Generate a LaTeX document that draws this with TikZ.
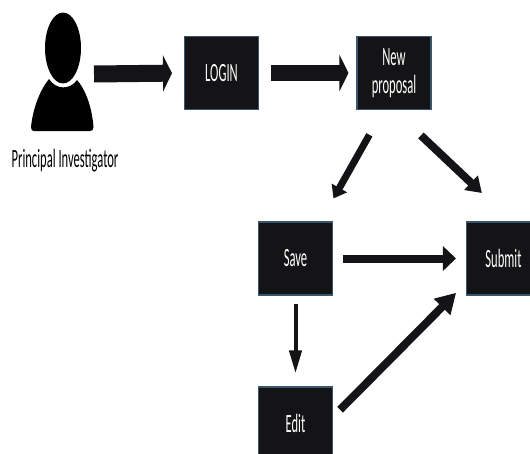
\documentclass[tikz,border=0pt]{standalone}
\usepackage{fontspec}
\setmainfont{Carlito}
\usetikzlibrary{arrows.meta, shapes.geometric}
\definecolor{boxfill}{HTML}{141416}
\definecolor{boxedge}{HTML}{3A566E}
\newcommand{\narrowtext}[1]{\scalebox{0.477}[1]{#1}}
\tikzset{
  flow/.style={
	x=0.02cm, y=-0.02cm, % one unit is one pixel of the reference
	every node/.style={font=\fontsize{15}{16}\selectfont},
  },
  stepbox/.style={
	draw=boxedge, line width=0.6pt, fill=boxfill, text=white, % dark boxes
	minimum width=1.48cm, minimum height=1.46cm, inner sep=0pt,
	align=center,
  },
  flowarrow/.style n args={3}{
	draw=boxfill, line width=#1cm,
	-{Triangle[length=#2cm, width=#3cm, fill=boxfill]},
  },
}
\begin{document}
\begin{tikzpicture}[flow]
	  \useasboundingbox (0,0) rectangle (530,453);

	  % person
	  \fill[black] (31,127) .. controls (33,108) and (40,90) .. (49,79)
		  .. controls (56,90) and (70,90) .. (77,80)
		  .. controls (86,90) and (92,108) .. (93.5,127)
		  .. controls (93.5,130) and (92,131) .. (90,131)
		  -- (34,131) .. controls (32,131) and (31,130) .. (31,127) -- cycle;
	  \node[ellipse, fill=black, minimum width=0.72cm, minimum height=1.42cm, inner sep=0pt] (head) at (63,48) {};
	  \node (investigator) at (65,161) {\narrowtext{Principal Investigator}};
	  \coordinate (person) at (94,74);

	  \node[stepbox] (login) at (221.5,73) {\narrowtext{LOGIN}};
	  \node[stepbox] (newprop) at (394,73) {\narrowtext{New}\\\narrowtext{proposal}};
	  \node[stepbox] (save) at (295.5,258.5) {\narrowtext{Save}};
	  \node[stepbox] (submit) at (503.5,258.5) {\narrowtext{Submit}};
	  \node[stepbox] (edit) at (295.5,423.5) {\narrowtext{Edit}};

	  \draw[flowarrow={0.34}{0.18}{0.72}, shorten >=0.24cm] (person) -- (login.west);
	  \draw[flowarrow={0.34}{0.18}{0.72}, shorten <=0.24cm, shorten >=0.16cm] (login.east) -- (newprop.west);
	  \draw[flowarrow={0.14}{0.24}{0.34}, shorten <=0.57cm, shorten >=0.53cm] (newprop.254.5) -- (save.56);
	  \draw[flowarrow={0.16}{0.30}{0.38}, shorten <=0.74cm, shorten >=0.83cm] (newprop.south) -- (submit.77);
	  \draw[flowarrow={0.16}{0.26}{0.48}, shorten <=0.20cm, shorten >=0.20cm] (save.east) -- (submit.west);
	  \draw[flowarrow={0.08}{0.46}{0.24}, shorten <=0.16cm, shorten >=0.26cm] (save.south) -- (edit.north);
	  \draw[flowarrow={0.16}{0.40}{0.44}, shorten <=0.20cm, shorten >=0.28cm] (edit.10) -- (submit.213);
\end{tikzpicture}
\end{document}
